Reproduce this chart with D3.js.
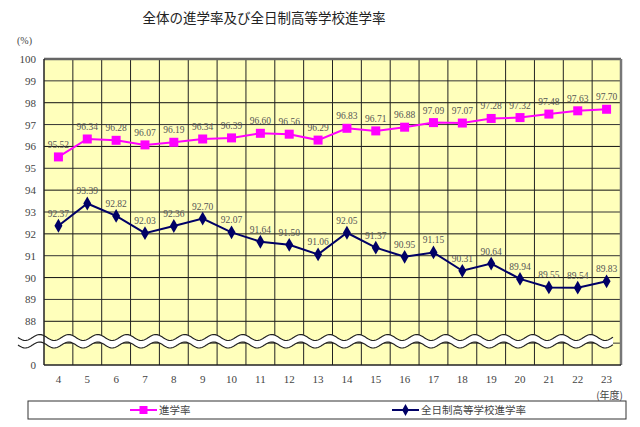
<!DOCTYPE html>
<html><head><meta charset="utf-8">
<script src="https://cdn.jsdelivr.net/npm/d3@7/dist/d3.min.js"></script>
<style>body{margin:0;background:#fff}svg{display:block}</style>
</head><body>
<svg id="c" width="640" height="427"></svg>
<script>
const years = ["4","5","6","7","8","9","10","11","12","13","14","15","16","17","18","19","20","21","22","23"];
const rateAll = [95.52,96.34,96.28,96.07,96.19,96.34,96.39,96.60,96.56,96.29,96.83,96.71,96.88,97.09,97.07,97.28,97.32,97.48,97.63,97.70];
const rateFull = [92.37,93.39,92.82,92.03,92.36,92.70,92.07,91.64,91.50,91.06,92.05,91.37,90.95,91.15,90.31,90.64,89.94,89.55,89.54,89.83];
const yTickValues = [86,88,89,90,91,92,93,94,95,96,97,98,99,100];
const yTickLabels = ["0","88","89","90","91","92","93","94","95","96","97","98","99","100"];
const seriesNames = ["進学率","全日制高等学校進学率"];
const title = "全体の進学率及び全日制高等学校進学率";

const svg = d3.select("#c");
const L=44, R=621, T=59, B=365;
const x = d3.scaleBand().domain(years).range([L,R]).padding(0);
const y = d3.scaleLinear().domain([86,100]).range([B,T]);
const serif = "'Liberation Serif','DejaVu Serif',serif";
const cjk = "'Noto Sans CJK JP','Noto Sans CJK SC',sans-serif";

svg.append("text").attr("x",264).attr("y",23).attr("text-anchor","middle")
  .attr("font-family",cjk).attr("font-size",13.5).attr("fill","#222").text(title);
svg.append("text").attr("x",17).attr("y",44).attr("font-family",serif).attr("font-size",10).attr("fill","#444").text("(%)");

// plot background
svg.append("rect").attr("x",L).attr("y",T).attr("width",R-L).attr("height",B-T).attr("fill","#FFFFBB");

// gridlines
const g = svg.append("g");
d3.range(87,100).forEach(v=>{
  g.append("line").attr("x1",L).attr("x2",R).attr("y1",y(v)).attr("y2",y(v))
   .attr("stroke", (v%2===1)?"#333":"#111").attr("stroke-width",1);
});
years.slice(1).forEach(d=>{
  g.append("line").attr("x1",x(d)).attr("x2",x(d)).attr("y1",T).attr("y2",B).attr("stroke","#222").attr("stroke-width",1);
});

// break wave
function wave(y0){
  const pts=[];
  for(let px=18; px<=613; px+=1){ pts.push([px, y0 + 3*Math.sin((px-18)/29*2*Math.PI)]); }
  return pts;
}
const up = wave(337.5), lo = wave(345);
svg.append("path").attr("d", d3.line()(up.concat(lo.slice().reverse()))+"Z").attr("fill","#fff");
svg.append("path").attr("d", d3.line()(up)).attr("fill","none").attr("stroke","#222").attr("stroke-width",1.2);
svg.append("path").attr("d", d3.line()(lo)).attr("fill","none").attr("stroke","#222").attr("stroke-width",1.2);

// borders
svg.append("line").attr("x1",L).attr("x2",R).attr("y1",T).attr("y2",T).attr("stroke","#666").attr("stroke-width",2.5);
svg.append("line").attr("x1",R).attr("x2",R).attr("y1",T).attr("y2",B).attr("stroke","#777").attr("stroke-width",2.5);
svg.append("line").attr("x1",L).attr("x2",R).attr("y1",B).attr("y2",B).attr("stroke","#222").attr("stroke-width",1.5);
svg.append("line").attr("x1",L).attr("x2",L).attr("y1",T).attr("y2",B).attr("stroke","#222").attr("stroke-width",1.5);

// y axis labels
const yAxis = d3.axisLeft(y).tickValues(yTickValues).tickSize(0).tickPadding(8)
  .tickFormat((d,i)=>yTickLabels[i]);
const ya = svg.append("g").attr("transform",`translate(${L},0)`).call(yAxis);
ya.select(".domain").remove();
ya.selectAll("text").attr("font-family",serif).attr("font-size",11).attr("fill","#444");

// x axis labels
const xAxis = d3.axisBottom(x).tickSize(0).tickPadding(10);
const xa = svg.append("g").attr("transform",`translate(0,${B})`).call(xAxis);
xa.select(".domain").remove();
xa.selectAll("text").attr("font-family",serif).attr("font-size",11).attr("fill","#444");
svg.append("text").attr("x",623).attr("y",399).attr("text-anchor","end").attr("font-family",cjk)
  .attr("font-size",10).attr("fill","#444").text("(年度)");

// series
const cx = d=>x(d)+x.bandwidth()/2;
const line = d3.line().x((d,i)=>cx(years[i])).y(d=>y(d));
svg.append("path").datum(rateAll).attr("d",line).attr("fill","none").attr("stroke","#FF00FF").attr("stroke-width",2);
svg.append("path").datum(rateFull).attr("d",line).attr("fill","none").attr("stroke","#000066").attr("stroke-width",2);

svg.selectAll(".sq").data(rateAll).enter().append("rect")
  .attr("x",(d,i)=>cx(years[i])-4.5).attr("y",d=>y(d)-4.5).attr("width",9).attr("height",9).attr("fill","#FF00FF");
const dia = d3.symbol().type(d3.symbolDiamond).size(55);
svg.selectAll(".dm").data(rateFull).enter().append("path")
  .attr("d",dia).attr("transform",(d,i)=>`translate(${cx(years[i])},${y(d)})`).attr("fill","#000066");

// data labels
function labels(arr){
  svg.selectAll(null).data(arr).enter().append("text")
    .attr("x",(d,i)=>cx(years[i])).attr("y",d=>y(d)-9).attr("text-anchor","middle")
    .attr("font-family",serif).attr("font-size",9.5).attr("fill","#555").text(d=>d.toFixed(2));
}
labels(rateAll); labels(rateFull);

// legend
svg.append("rect").attr("x",28).attr("y",401).attr("width",598).attr("height",18).attr("fill","#fff").attr("stroke","#333").attr("stroke-width",1);
const lg = [{c:"#FF00FF",x:130,sym:"sq"},{c:"#000066",x:392,sym:"dm"}];
lg.forEach((o,i)=>{
  svg.append("line").attr("x1",o.x).attr("x2",o.x+27).attr("y1",410).attr("y2",410).attr("stroke",o.c).attr("stroke-width",2);
  if(o.sym==="sq") svg.append("rect").attr("x",o.x+13.5-4).attr("y",406).attr("width",8).attr("height",8).attr("fill",o.c);
  else svg.append("path").attr("d",d3.symbol().type(d3.symbolDiamond).size(40)).attr("transform",`translate(${o.x+13.5},410)`).attr("fill",o.c);
  svg.append("text").attr("x",o.x+29).attr("y",414).attr("font-family",cjk).attr("font-size",10.5).attr("fill","#444").text(seriesNames[i]);
});
</script>
</body></html>
